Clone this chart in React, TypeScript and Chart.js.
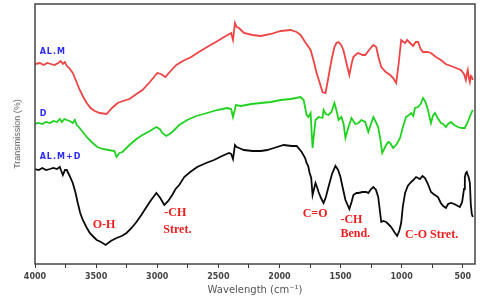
import React, { useEffect, useRef } from 'react';
import { Chart, registerables } from 'chart.js';

Chart.register(...registerables);

// ---- Data (wavenumber cm^-1, transmission in arbitrary offset units) ----
const wnALM = [4000, 3960, 3930, 3900, 3870, 3840, 3810, 3790, 3772, 3755, 3740, 3720, 3691, 3660, 3634, 3605, 3577, 3545, 3512, 3470, 3414, 3370, 3324, 3280, 3227, 3170, 3121, 3060, 2999, 2970, 2934, 2890, 2844, 2790, 2722, 2660, 2592, 2520, 2453, 2410, 2395, 2380, 2364, 2350, 2331, 2291, 2220, 2152, 2070, 1989, 1908, 1860, 1827, 1790, 1745, 1720, 1696, 1670, 1648, 1623, 1599, 1574, 1550, 1534, 1517, 1495, 1477, 1450, 1428, 1410, 1395, 1370, 1354, 1320, 1298, 1260, 1232, 1208, 1190, 1167, 1130, 1094, 1070, 1045, 1025, 1004, 985, 972, 955, 931, 907, 885, 866, 845, 825, 790, 760, 720, 679, 640, 597, 555, 516, 490, 475, 467, 459, 450, 442, 434, 426, 418];
const tALM = [200, 201, 199, 201, 200, 199, 201, 203, 200, 202, 198, 196, 191, 182, 174, 167, 161, 156, 153, 151, 150, 156, 161, 163, 165, 170, 174, 182, 191, 190, 187, 193, 199, 203, 207, 212, 217, 222, 227, 230, 231, 224, 241, 237, 236, 231, 229, 228, 230, 233, 234, 232, 229, 222, 214, 203, 191, 181, 172, 171, 187, 204, 217, 221, 222, 219, 214, 200, 189, 200, 207, 210, 211, 209, 209, 215, 219, 217, 207, 197, 192, 189, 186, 181, 200, 224, 222, 221, 224, 221, 218, 222, 222, 215, 212, 212, 211, 207, 204, 200, 198, 196, 194, 190, 184, 190, 194, 186, 182, 188, 187, 184];

const wnD = [4000, 3970, 3940, 3910, 3878, 3850, 3820, 3797, 3780, 3760, 3740, 3715, 3691, 3675, 3658, 3635, 3609, 3570, 3528, 3490, 3446, 3400, 3349, 3333, 3310, 3284, 3227, 3170, 3121, 3060, 3007, 2980, 2958, 2926, 2900, 2877, 2820, 2755, 2680, 2592, 2510, 2429, 2395, 2380, 2356, 2315, 2230, 2152, 2070, 1989, 1908, 1827, 1802, 1778, 1762, 1745, 1729, 1705, 1680, 1648, 1639, 1620, 1599, 1575, 1550, 1530, 1517, 1493, 1475, 1460, 1440, 1411, 1380, 1354, 1330, 1298, 1273, 1232, 1215, 1192, 1175, 1159, 1127, 1110, 1094, 1070, 1040, 1013, 990, 964, 940, 923, 905, 891, 866, 845, 825, 805, 785, 770, 760, 745, 728, 705, 679, 660, 638, 620, 597, 570, 540, 510, 483, 459, 440, 426, 418];
const tD = [140, 141, 140, 142, 141, 143, 142, 145, 142, 145, 144, 143, 141, 144, 139, 136, 132, 126, 121, 117, 115, 114, 113, 107, 111, 112, 119, 125, 129, 133, 137, 135, 131, 128, 130, 132, 139, 144, 148, 151, 154, 156, 155, 147, 159, 158, 160, 161, 162, 164, 165, 167, 164, 149, 147, 151, 116, 144, 147, 146, 154, 150, 149, 152, 161, 152, 144, 147, 140, 126, 135, 146, 140, 141, 144, 142, 132, 147, 143, 137, 125, 111, 119, 122, 121, 116, 120, 126, 137, 147, 149, 151, 148, 156, 157, 160, 166, 162, 154, 146, 141, 148, 151, 146, 141, 140, 137, 140, 142, 139, 137, 136, 136, 142, 148, 152, 154];

const wnALMD = [4000, 3970, 3940, 3910, 3878, 3850, 3820, 3797, 3785, 3772, 3755, 3740, 3720, 3691, 3670, 3650, 3630, 3609, 3580, 3552, 3520, 3495, 3460, 3422, 3380, 3333, 3290, 3251, 3210, 3170, 3130, 3088, 3050, 3007, 2975, 2942, 2910, 2877, 2850, 2820, 2779, 2730, 2673, 2600, 2535, 2470, 2413, 2395, 2380, 2364, 2350, 2331, 2291, 2220, 2152, 2100, 2046, 1965, 1900, 1859, 1818, 1790, 1778, 1765, 1753, 1740, 1729, 1715, 1705, 1690, 1680, 1660, 1639, 1620, 1599, 1570, 1542, 1520, 1501, 1480, 1460, 1428, 1410, 1395, 1370, 1354, 1320, 1289, 1273, 1250, 1232, 1210, 1192, 1180, 1167, 1150, 1127, 1110, 1086, 1060, 1037, 1020, 1004, 990, 972, 950, 931, 905, 882, 850, 830, 809, 785, 760, 740, 703, 680, 660, 638, 620, 597, 570, 540, 524, 505, 490, 483, 475, 467, 459, 450, 442, 434, 426, 418];
const tALMD = [95, 94, 96, 94, 95, 96, 95, 97, 93, 89, 94, 94, 89, 81, 72, 61, 51, 44, 37, 31, 27, 24, 22, 19, 23, 26, 28, 31, 36, 42, 49, 57, 64, 71, 66, 59, 63, 69, 75, 79, 87, 92, 97, 101, 104, 108, 111, 110, 105, 119, 117, 116, 114, 113, 113, 114, 116, 119, 118, 118, 112, 106, 101, 98, 91, 86, 69, 76, 81, 76, 72, 66, 61, 67, 77, 90, 98, 94, 87, 75, 64, 55, 62, 69, 71, 71, 72, 72, 71, 75, 77, 74, 67, 55, 42, 43, 42, 40, 37, 32, 28, 33, 41, 58, 71, 78, 81, 84, 87, 85, 88, 86, 80, 72, 70, 67, 61, 58, 56, 60, 61, 60, 58, 57, 62, 75, 87, 91, 92, 89, 86, 81, 59, 50, 47];

const seriesNames = ['AL.M', 'D', 'AL.M+D'];
const seriesLabelWn = [3962, 3962, 3962];
const seriesLabelT = [212, 150, 107];

const bandLabels = ['O-H', '-CH', 'Stret.', 'C=O', '-CH', 'Bend.', 'C-O Stret.'];
const bandWn = [3528, 2942, 2950, 1810, 1501, 1501, 972];
const bandT = [39, 51, 34, 50, 44, 30, 29];

const xTickStep = 250;
const xLabelStep = 500;

const toPoints = (xs: number[], ys: number[]) => xs.map((x, i) => ({ x, y: ys[i] }));

const annotationPlugin = {
  id: 'ftirAnnotations',
  afterDatasetsDraw(chart: any) {
    const { ctx, chartArea, scales } = chart;
    const xs = scales.x;
    const ys = scales.y;
    ctx.save();
    // frame
    ctx.strokeStyle = '#444';
    ctx.lineWidth = 1.5;
    ctx.strokeRect(chartArea.left, chartArea.top, chartArea.right - chartArea.left, chartArea.bottom - chartArea.top);
    // series labels
    ctx.fillStyle = '#2b2bf0';
    ctx.font = 'bold 8px "DejaVu Sans"';
    (ctx as any).letterSpacing = '1px';
    ctx.textAlign = 'left';
    ctx.textBaseline = 'middle';
    seriesNames.forEach((t, i) => {
      ctx.fillText(t, xs.getPixelForValue(seriesLabelWn[i]), ys.getPixelForValue(seriesLabelT[i]));
    });
    (ctx as any).letterSpacing = '0px';
    // band labels
    ctx.fillStyle = '#f01e1e';
    ctx.font = 'bold 12px "Liberation Serif"';
    bandLabels.forEach((t, i) => {
      ctx.fillText(t, xs.getPixelForValue(bandWn[i]), ys.getPixelForValue(bandT[i]));
    });
    ctx.restore();
  },
};

export default function App() {
  const ref = useRef<HTMLCanvasElement | null>(null);
  useEffect(() => {
    if (!ref.current) return;
    const chart = new Chart(ref.current, {
      type: 'line',
      data: {
        datasets: [
          { label: 'AL.M', data: toPoints(wnALM, tALM), borderColor: '#ee4444', borderWidth: 1.8, pointRadius: 0, fill: false },
          { label: 'D', data: toPoints(wnD, tD), borderColor: '#1fd21f', borderWidth: 1.8, pointRadius: 0, fill: false },
          { label: 'AL.M+D', data: toPoints(wnALMD, tALMD), borderColor: '#0a0a0a', borderWidth: 1.8, pointRadius: 0, fill: false },
        ],
      },
      options: {
        animation: false,
        responsive: false,
        devicePixelRatio: 1,
        layout: { padding: { top: 4, right: 5, left: 0, bottom: 0 } },
        plugins: { legend: { display: false }, tooltip: { enabled: false } },
        scales: {
          x: {
            type: 'linear',
            reverse: true,
            min: 400,
            max: 4000,
            border: { display: false },
            grid: { drawOnChartArea: false, drawTicks: true, tickLength: 4, color: '#333', lineWidth: 1 },
            ticks: {
              stepSize: xTickStep,
              includeBounds: false,
              autoSkip: false,
              maxRotation: 0,
              padding: 4,
              color: '#444',
              font: { family: '"DejaVu Sans"', weight: 'bold', size: 8 },
              callback: (v: any) => (Number(v) % xLabelStep === 0 ? String(v) : ''),
            },
            title: {
              display: true,
              text: 'Wavelength (cm\u207B\u00B9)',
              color: '#555',
              font: { family: '"DejaVu Sans"', size: 10 },
              padding: { top: 0, bottom: 6 },
            },
            afterFit: (s: any) => { s.height = 38; },
          },
          y: {
            min: 0,
            max: 260,
            border: { display: false },
            grid: { display: false },
            ticks: { display: false },
            title: {
              display: true,
              text: 'Transmission (%)',
              color: '#666',
              font: { family: '"Liberation Sans"', size: 9 },
              padding: { top: 12, bottom: 0 },
            },
            afterFit: (s: any) => { s.width = 35; },
          },
        },
      },
      plugins: [annotationPlugin],
    } as any);
    return () => chart.destroy();
  }, []);
  return (
    <div style={{ position: 'fixed', left: 0, top: 0, width: 480, height: 302, background: '#fff' }}>
      <canvas ref={ref} width={480} height={302} />
    </div>
  );
}
